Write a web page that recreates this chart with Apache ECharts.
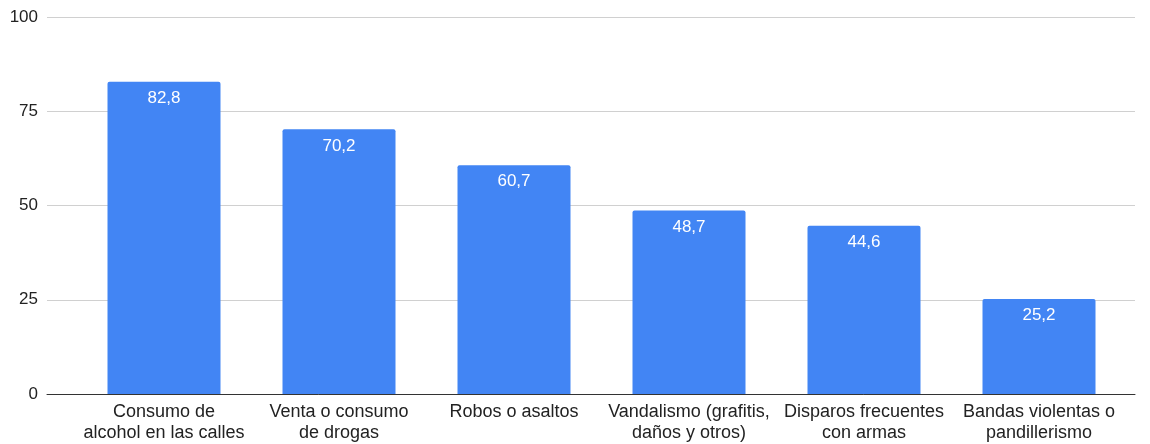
<!DOCTYPE html>
<html>
<head>
<meta charset="utf-8">
<script src="https://cdn.jsdelivr.net/npm/echarts@6/dist/echarts.min.js"></script>
<style>html,body{margin:0;padding:0;background:#fff}#c{width:1150px;height:444px}</style>
</head>
<body>
<div id="c"></div>
<script>
const categories = [
  "Consumo de\nalcohol en las calles",
  "Venta o consumo\nde drogas",
  "Robos o asaltos",
  "Vandalismo (grafitis,\ndaños y otros)",
  "Disparos frecuentes\ncon armas",
  "Bandas violentas o\npandillerismo"
];
const values = [82.8, 70.2, 60.7, 48.7, 44.6, 25.2];
const yTicks = [0, 25, 50, 75, 100];

const chart = echarts.init(document.getElementById('c'), null, {renderer: 'canvas'});
const font = 'Liberation Sans, Arial, sans-serif';
chart.setOption({
  animation: false,
  grid: [
    {left: 47, right: 15, top: 17, bottom: 50},
    {left: 76.5, right: 23.5, top: 17, bottom: 50}
  ],
  xAxis: [
    {gridIndex: 0, type: 'value', min: 0, max: 1, show: true,
      axisLine: {show: true, lineStyle: {color: '#333', width: 1}},
      axisTick: {show: false}, axisLabel: {show: false}, splitLine: {show: false}},
    {gridIndex: 1, type: 'category', data: categories,
      axisLine: {show: false}, axisTick: {show: false},
      axisLabel: {color: '#222', fontSize: 18, fontFamily: font, lineHeight: 21, margin: 8, interval: 0}}
  ],
  yAxis: [
    {gridIndex: 0, type: 'value', min: yTicks[0], max: yTicks[yTicks.length-1], interval: 25,
      axisLine: {show: false}, axisTick: {show: false},
      axisLabel: {color: '#222', fontSize: 17, fontFamily: font, margin: 9},
      splitLine: {lineStyle: {color: '#d0d0d0', width: 1}}},
    {gridIndex: 1, type: 'value', min: 0, max: 100, interval: 25, show: false}
  ],
  series: [{
    type: 'bar', xAxisIndex: 1, yAxisIndex: 1, data: values, barWidth: 113,
    itemStyle: {color: '#4285F4', borderRadius: [2, 2, 0, 0]},
    label: {show: true, position: 'insideTop', distance: 8, color: '#fff', fontSize: 17, fontFamily: font,
      formatter: p => String(p.value).replace('.', ',')}
  }]
});
</script>
</body>
</html>
